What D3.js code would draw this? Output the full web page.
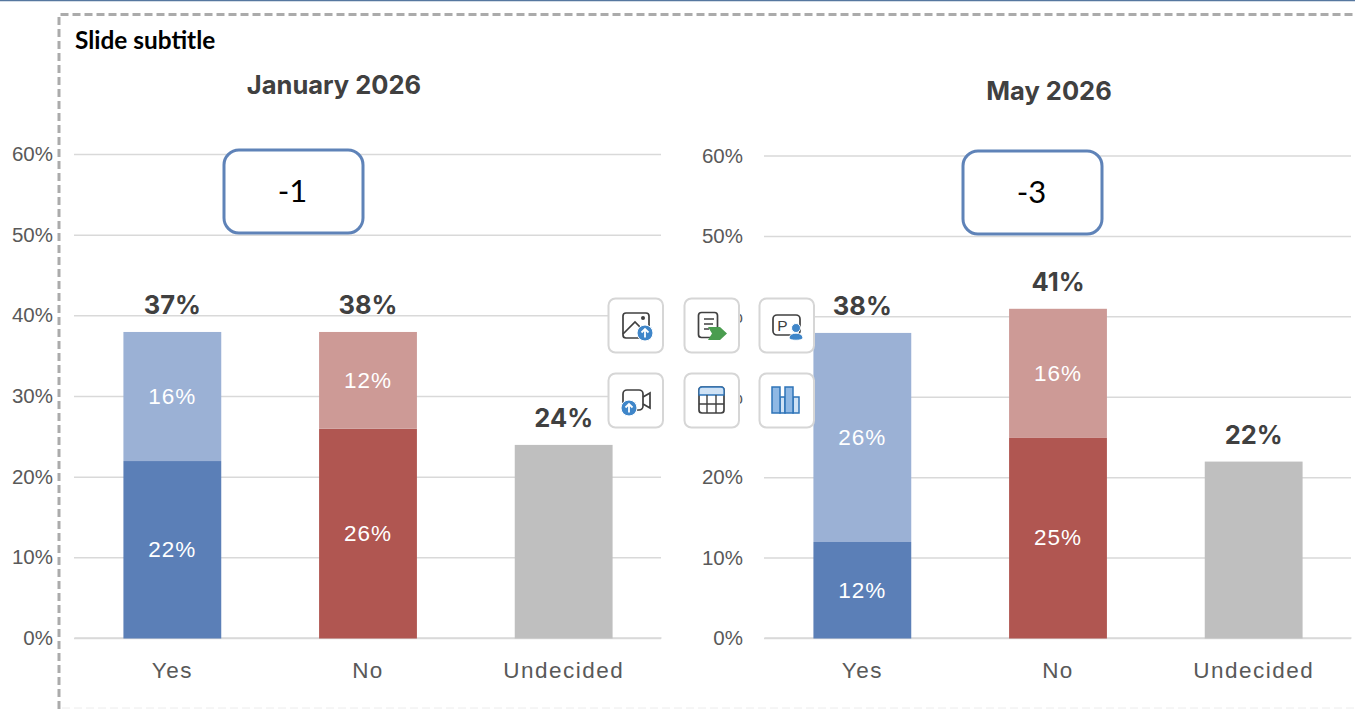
<!DOCTYPE html>
<html lang="en">
<head>
    <meta charset="UTF-8">
    <title>Slide subtitle</title>
    <script src="https://d3js.org/d3.v7.min.js"></script>
    <style>
        html, body { margin: 0; padding: 0; background: #fff; overflow: hidden; }
        svg { display: block; }
        .tick text { font-family: "Liberation Sans", sans-serif; fill: #595959; }
        .y-axis .tick text { font-size: 20.5px; }
        .x-axis .tick text { font-size: 22.5px; letter-spacing: 1.5px; }
        .y-axis .tick line, .x-axis .domain { stroke: #d9d9d9; stroke-width: 1.5; }
        .y-axis .domain, .x-axis .tick line { display: none; }
    </style>
</head>
<body>
<svg id="chart" width="1355" height="709"></svg>
<script>
// chart values
const categories = ["Yes", "No", "Undecided"];
const yTicks = [0, 10, 20, 30, 40, 50, 60];

const janBase = [22, 26, 24];
const janTop = [16, 12, 0];
const janTotals = [37, 38, 24];

const mayBase = [12, 25, 22];
const mayTop = [26, 16, 0];
const mayTotals = [38, 41, 22];

const baseColors = ["#5b7fb7", "#b05651", "#bfbfbf"];
const topColors = ["#9bb1d5", "#cd9a96", "#bfbfbf"];

const svg = d3.select("#chart");

// top rule and dashed slide frame
svg.append("line").attr("x1", 0).attr("x2", 1355).attr("y1", 0.5).attr("y2", 0.5)
    .attr("stroke", "#56779f").attr("stroke-width", 1.5);
svg.append("path").attr("d", "M59,709V14.5H1355")
    .attr("fill", "none").attr("stroke", "#ababab").attr("stroke-width", 3).attr("stroke-dasharray", "8 4");
svg.append("line").attr("x1", 62).attr("x2", 1355).attr("y1", 708).attr("y2", 708)
    .attr("stroke", "#ececec").attr("stroke-width", 1).attr("stroke-dasharray", "8 4");

svg.append("text").text("Slide subtitle")
    .attr("x", 75).attr("y", 49)
    .attr("font-family", "Lato, sans-serif").attr("font-weight", 700).attr("font-size", 24.4).attr("fill", "#000");

function drawPanel(opts) {
    const x = d3.scaleBand().domain(categories)
        .range([opts.left + 0.5, opts.left + 587.5])
        .paddingInner(0.5).paddingOuter(0.25);
    const y = d3.scaleLinear().domain([0, 60]).range([638.5, opts.top60]);

    const g = svg.append("g");

    g.append("text").text(opts.title)
        .attr("x", opts.titleX).attr("y", opts.titleY)
        .attr("text-anchor", "middle")
        .attr("font-family", "Inter, sans-serif").attr("font-weight", 700).attr("font-size", 25.5).attr("fill", "#404040");

    g.append("g").attr("class", "y-axis")
        .attr("transform", `translate(${opts.left},0)`)
        .call(d3.axisLeft(y).tickValues(yTicks).tickFormat(d => d + "%").tickSize(-587).tickPadding(21).offset(0));

    g.append("g").attr("class", "x-axis")
        .attr("transform", "translate(0,638)")
        .call(d3.axisBottom(x).tickSize(0).tickPadding(24).offset(0));

    const rows = categories.map((c, i) => ({ c, i, base: opts.base[i], top: opts.topVals[i], total: opts.totals[i] }));

    g.selectAll(".bar-base").data(rows).enter().append("rect")
        .attr("class", "bar-base")
        .attr("x", d => x(d.c)).attr("width", x.bandwidth())
        .attr("y", d => y(d.base)).attr("height", d => y(0) - y(d.base))
        .attr("fill", d => baseColors[d.i]);

    const stacked = rows.filter(d => d.top > 0);

    g.selectAll(".bar-top").data(stacked).enter().append("rect")
        .attr("class", "bar-top")
        .attr("x", d => x(d.c)).attr("width", x.bandwidth())
        .attr("y", d => y(d.base + d.top)).attr("height", d => y(d.base) - y(d.base + d.top))
        .attr("fill", d => topColors[d.i]);

    const inner = g.append("g")
        .attr("font-family", "Liberation Sans, sans-serif").attr("font-size", 22.5).attr("letter-spacing", 1)
        .attr("fill", "#fff").attr("text-anchor", "middle").attr("dominant-baseline", "central");
    inner.selectAll(".lab-base").data(stacked).enter().append("text")
        .attr("x", d => x(d.c) + x.bandwidth() / 2)
        .attr("y", d => (y(0) + y(d.base)) / 2)
        .text(d => d.base + "%");
    inner.selectAll(".lab-top").data(stacked).enter().append("text")
        .attr("x", d => x(d.c) + x.bandwidth() / 2)
        .attr("y", d => (y(d.base) + y(d.base + d.top)) / 2)
        .text(d => d.top + "%");

    g.selectAll(".lab-total").data(rows).enter().append("text")
        .attr("x", d => x(d.c) + x.bandwidth() / 2)
        .attr("y", d => y(d.base + d.top) - 18)
        .attr("text-anchor", "middle")
        .attr("font-family", "Inter, sans-serif").attr("font-weight", 700).attr("font-size", 25.5).attr("fill", "#404040")
        .text(d => d.total + "%");

    // callout with the net difference
    g.append("rect")
        .attr("x", opts.boxX).attr("y", opts.boxY).attr("width", 139).attr("height", 83).attr("rx", 15)
        .attr("fill", "#fff").attr("stroke", "#5f83b8").attr("stroke-width", 3);
    g.append("text").text(opts.net)
        .attr("x", opts.boxX + 68.5).attr("y", opts.boxY + 40)
        .attr("text-anchor", "middle").attr("dominant-baseline", "central")
        .attr("font-family", "Lato, sans-serif").attr("font-size", 31).attr("fill", "#000");
}

drawPanel({ title: "January 2026", titleX: 334, titleY: 94, left: 74, top60: 154.5, base: janBase, topVals: janTop, totals: janTotals, boxX: 224, boxY: 150, net: "-1" });
drawPanel({ title: "May 2026", titleX: 1049, titleY: 100, left: 764, top60: 156, base: mayBase, topVals: mayTop, totals: mayTotals, boxX: 963, boxY: 151, net: "-3" });

// floating toolbar over the slide
const dark = "#404040", blue = "#3f86c9", paleBlue = "#cfe2f5", midBlue = "#8fb8e4", edgeBlue = "#2f74b8";

function button(bx, by) {
    const b = svg.append("g").attr("transform", `translate(${bx},${by})`);
    b.append("rect").attr("x", 0.5).attr("y", 0.5).attr("width", 54.5).attr("height", 54).attr("rx", 7)
        .attr("fill", "#fff").attr("stroke", "#d6d6d6").attr("stroke-width", 2);
    return b;
}

function upBadge(b, cx, cy) {
    b.append("circle").attr("cx", cx).attr("cy", cy).attr("r", 8).attr("fill", blue).attr("stroke", "#fff").attr("stroke-width", 1);
    b.append("path").attr("d", `M${cx},${cy + 4.5}V${cy - 4}M${cx - 3.5},${cy - 0.5}L${cx},${cy - 4}L${cx + 3.5},${cy - 0.5}`)
        .attr("fill", "none").attr("stroke", "#fff").attr("stroke-width", 1.8);
}

// picture upload
const b1 = button(608, 298);
b1.append("rect").attr("x", 15).attr("y", 15).attr("width", 26).attr("height", 25).attr("rx", 3)
    .attr("fill", "none").attr("stroke", dark).attr("stroke-width", 1.7);
b1.append("path").attr("d", "M15,36L27,24L34,31").attr("fill", "none").attr("stroke", dark).attr("stroke-width", 1.7);
b1.append("circle").attr("cx", 35).attr("cy", 20).attr("r", 2).attr("fill", dark);
upBadge(b1, 37, 35);

// document with arrow
const b2 = button(684, 298);
b2.append("rect").attr("x", 14.5).attr("y", 14.5).attr("width", 19).attr("height", 25).attr("rx", 3)
    .attr("fill", "none").attr("stroke", dark).attr("stroke-width", 1.7);
b2.append("path").attr("d", "M20,21H30M20,26H29M20,31H25").attr("fill", "none").attr("stroke", dark).attr("stroke-width", 1.4);
b2.append("path").attr("d", "M24,29H36L43,35.5L36,42H24L28,35.5Z").attr("fill", "#4a9d4f");

// presenter
const b3 = button(759, 298);
b3.append("rect").attr("x", 14).attr("y", 17).attr("width", 27).attr("height", 20).attr("rx", 4)
    .attr("fill", "none").attr("stroke", dark).attr("stroke-width", 1.7);
b3.append("text").text("P").attr("x", 23.5).attr("y", 33)
    .attr("text-anchor", "middle").attr("font-family", "Liberation Sans, sans-serif").attr("font-size", 15.5).attr("fill", dark);
b3.append("circle").attr("cx", 37).attr("cy", 30).attr("r", 4.5).attr("fill", blue).attr("stroke", "#fff").attr("stroke-width", 1);
b3.append("path").attr("d", "M30,40C30,33.5 44,33.5 44,40C44,43 30,43 30,40Z").attr("fill", blue).attr("stroke", "#fff").attr("stroke-width", 1);

// video upload
const b4 = button(608, 373);
b4.append("rect").attr("x", 15).attr("y", 17).attr("width", 20).attr("height", 20).attr("rx", 4)
    .attr("fill", "none").attr("stroke", dark).attr("stroke-width", 1.7);
b4.append("path").attr("d", "M35,24L42,20V35L35,31").attr("fill", "none").attr("stroke", dark).attr("stroke-width", 1.7);
upBadge(b4, 21, 35);

// table
const b5 = button(684, 373);
b5.append("rect").attr("x", 15).attr("y", 14).attr("width", 25).attr("height", 26).attr("rx", 3)
    .attr("fill", "#fff").attr("stroke", dark).attr("stroke-width", 1.7);
b5.append("path").attr("d", "M15,22V17Q15,14 18,14H37Q40,14 40,17V22Z").attr("fill", paleBlue).attr("stroke", edgeBlue).attr("stroke-width", 1.3);
b5.append("path").attr("d", "M15,31H40M23,22V40M32,22V40").attr("fill", "none").attr("stroke", dark).attr("stroke-width", 1.4);

// bar chart icon
const b6 = button(759, 373);
b6.append("path").attr("d", "M21,24H26V40H21Z M34,24H40V40H34Z").attr("fill", paleBlue).attr("stroke", edgeBlue).attr("stroke-width", 1.5);
b6.append("path").attr("d", "M13,14H21V40H13Z M26,14H34V40H26Z").attr("fill", midBlue).attr("stroke", edgeBlue).attr("stroke-width", 1.5);
</script>
</body>
</html>
